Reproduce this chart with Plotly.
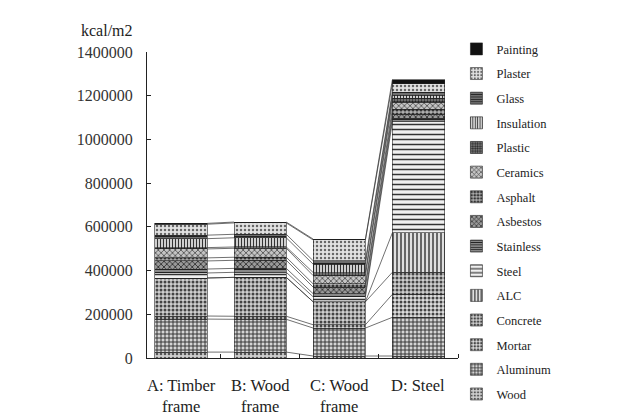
import plotly.graph_objects as go

categories = ["A: Timber<br>frame", "B: Wood<br>frame", "C: Wood<br>frame", "D: Steel"]

wood       = [27000, 27000, 9000, 9000]
aluminum   = [151000, 150000, 128000, 177000]
mortar     = [14000, 14000, 15000, 105000]
concrete   = [174000, 178000, 105000, 101000]
alc        = [0, 0, 0, 180000]
steel      = [23000, 23000, 23000, 508000]
stainless  = [18000, 18000, 14000, 18000]
asbestos   = [37000, 37000, 30000, 18000]
asphalt    = [14000, 14000, 15000, 23000]
ceramics   = [41000, 41000, 38000, 32000]
plastic    = [6000, 6000, 14000, 18000]
insulation = [41000, 42000, 38000, 14000]
glass      = [16000, 16000, 16000, 14000]
plaster    = [50000, 52000, 95000, 37000]
painting   = [4000, 4000, 4000, 18000]

series_names = ["Wood", "Aluminum", "Mortar", "Concrete", "ALC", "Steel", "Stainless",
                "Asbestos", "Asphalt", "Ceramics", "Plastic", "Insulation", "Glass",
                "Plaster", "Painting"]
series_values = [wood, aluminum, mortar, concrete, alc, steel, stainless, asbestos,
                 asphalt, ceramics, plastic, insulation, glass, plaster, painting]

y_ticks = [0, 200000, 400000, 600000, 800000, 1000000, 1200000, 1400000]

# pattern styles (shape, fg, bg, size, solidity)
styles = {
    "Wood":       (".", "#555", "#d0d0d0", 4, 0.35),
    "Aluminum":   ("+", "#2a2a2a", "#d4d4d4", 4, 0.4),
    "Mortar":     (".", "#444", "#dddddd", 4, 0.45),
    "Concrete":   (".", "#444", "#cfcfcf", 4, 0.45),
    "ALC":        ("|", "#333", "#e0e0e0", 4, 0.35),
    "Steel":      ("-", "#333", "#f0f0f0", 5, 0.3),
    "Stainless":  ("-", "#222", "#aaaaaa", 3, 0.5),
    "Asbestos":   ("x", "#333", "#999999", 4, 0.4),
    "Asphalt":    (".", "#333", "#b0b0b0", 4, 0.5),
    "Ceramics":   ("x", "#444", "#c4c4c4", 4, 0.35),
    "Plastic":    (".", "#222", "#888888", 3, 0.5),
    "Insulation": ("|", "#333", "#e0e0e0", 3, 0.4),
    "Glass":      ("-", "#222", "#888888", 3, 0.5),
    "Plaster":    (".", "#666", "#e2e2e2", 4, 0.3),
    "Painting":   ("", "#111", "#111111", 4, 1.0),
}

FONT = "Liberation Serif"
bar_w = 0.66
xs = list(range(len(categories)))

fig = go.Figure()
n = len(series_names)
for idx, (name, vals) in enumerate(zip(series_names, series_values)):
    shape, fg, bg, size, sol = styles[name]
    marker = dict(color=bg, line=dict(color="#222", width=0.6))
    if shape:
        marker["pattern"] = dict(shape=shape, fgcolor=fg, bgcolor=bg, size=size,
                                 solidity=sol, fillmode="replace")
    else:
        marker["color"] = fg
    fig.add_trace(go.Bar(x=xs, y=vals, name=name, width=bar_w, marker=marker,
                         legendgroup=name, legendrank=n - idx))

# series connector lines
cum = [0] * len(categories)
lx, ly = [], []
for vals in series_values:
    cum = [c + v for c, v in zip(cum, vals)]
    for i in range(len(categories) - 1):
        lx += [xs[i] + bar_w / 2, xs[i + 1] - bar_w / 2, None]
        ly += [cum[i], cum[i + 1], None]
fig.add_trace(go.Scatter(x=lx, y=ly, mode="lines", line=dict(color="#333", width=0.7),
                         showlegend=False, hoverinfo="skip"))

annotations = [dict(text="kcal/m2", xref="paper", yref="paper", x=-0.04, y=1.035,
                    xanchor="right", yanchor="bottom", showarrow=False,
                    font=dict(family=FONT, size=16, color="#222"))]
for xi, label in zip(xs, categories):
    annotations.append(dict(text=label, x=xi, xref="x", yref="paper",
                            y=-0.052, xanchor="center", yanchor="top",
                            showarrow=False, align="center",
                            font=dict(family=FONT, size=16.5, color="#222")))

fig.update_layout(
    width=638, height=415,
    barmode="stack",
    paper_bgcolor="white", plot_bgcolor="white",
    margin=dict(l=139, r=188, t=44, b=65),
    font=dict(family=FONT, color="#222", size=13),
    legend=dict(traceorder="grouped", tracegroupgap=5.4,
                x=0.995, xanchor="left", y=1.058, yanchor="top",
                font=dict(family=FONT, size=12.5, color="#222"),
                itemwidth=30, bgcolor="rgba(0,0,0,0)", maxheight=410),
    xaxis=dict(range=[-0.43, 3.5], tickvals=xs, showticklabels=False,
               showline=True, linecolor="#222", linewidth=1, ticks="",
               showgrid=False, zeroline=False,
               minor=dict(tickvals=[0.5, 1.5, 2.5, 3.5], ticks="inside",
                          ticklen=4, tickcolor="#222", showgrid=False)),
    yaxis=dict(range=[0, 1400000], tickvals=y_ticks, tickformat="d",
               showline=True, linecolor="#222", linewidth=1,
               ticks="inside", ticklen=4, tickcolor="#222",
               showgrid=False, zeroline=False, ticklabelstandoff=10,
               tickfont=dict(family=FONT, size=16, color="#333")),
    annotations=annotations,
)

fig.write_html("out.html")
